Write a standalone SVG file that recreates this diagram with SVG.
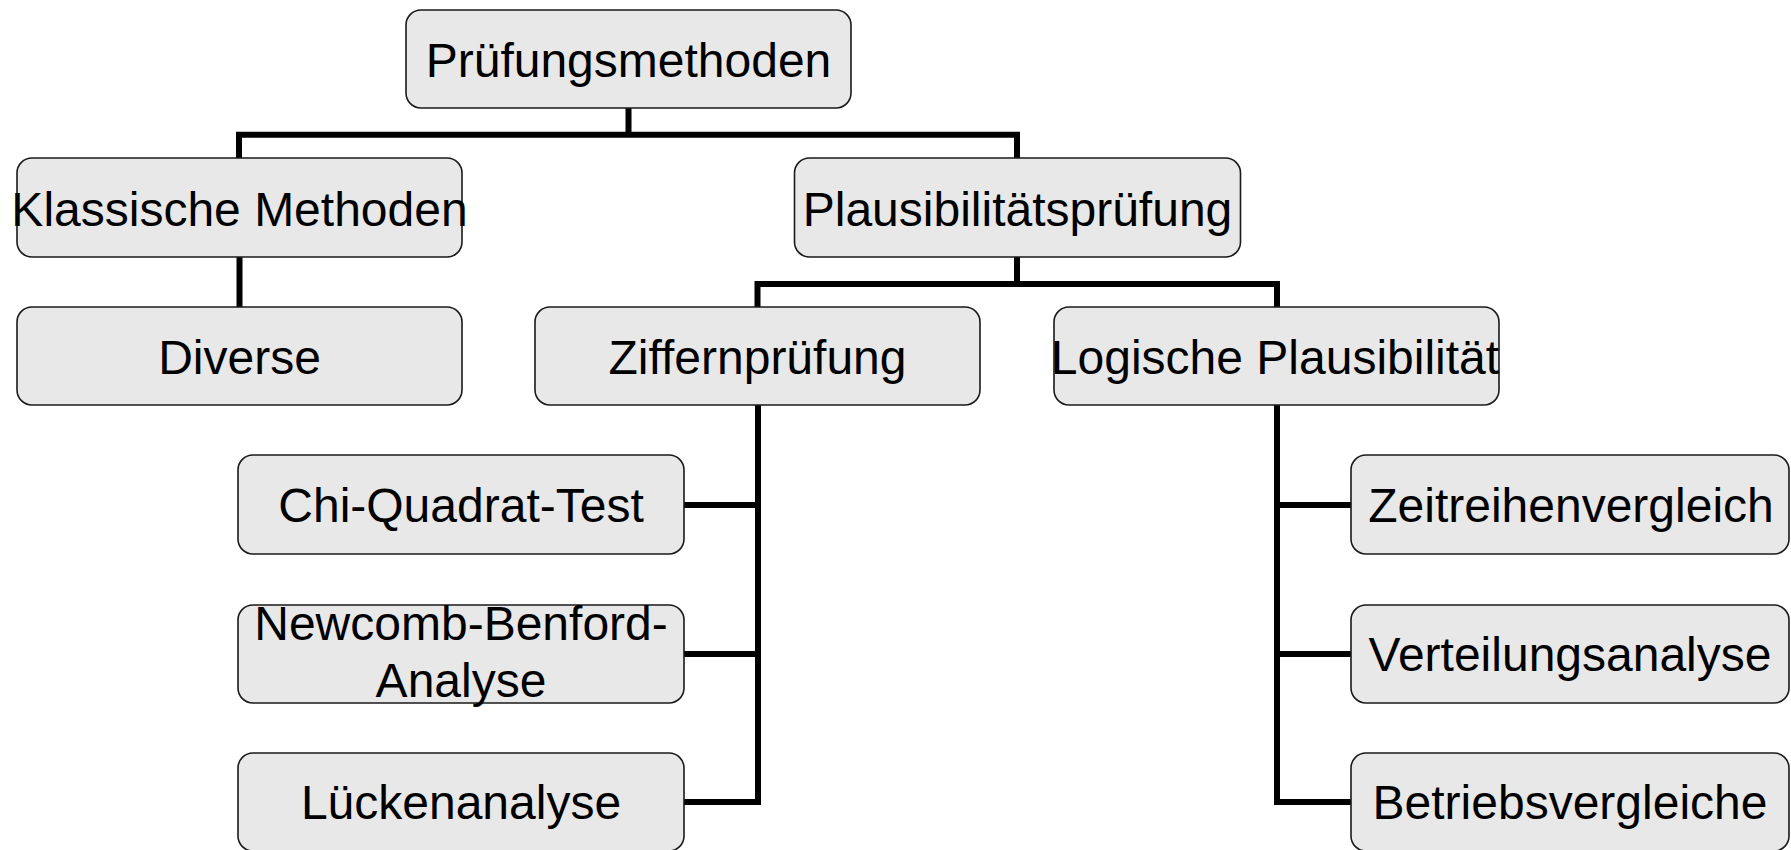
<svg xmlns="http://www.w3.org/2000/svg" width="1791" height="850" viewBox="0 0 1791 850">
  <style>
    .box { fill: #e8e8e8; stroke: #1a1a1a; stroke-width: 1.6; }
    .lbl { font-family: "Liberation Sans", Arial, sans-serif; font-size: 48px; fill: #000; text-anchor: middle; }
    .wire { fill: none; stroke: #000; stroke-width: 6; stroke-linejoin: miter; stroke-linecap: butt; }
  </style>
  <rect width="1791" height="850" fill="#ffffff"/>

  <!-- connectors -->
  <g id="connectors">
    <line class="wire" x1="628.5" y1="108" x2="628.5" y2="134.7"/>
    <polyline class="wire" points="239,158 239,134.7 1017,134.7 1017,158"/>
    <line class="wire" x1="239.5" y1="257" x2="239.5" y2="307"/>
    <line class="wire" x1="1017" y1="257" x2="1017" y2="284"/>
    <polyline class="wire" points="757.5,307 757.5,284 1277,284 1277,307"/>
    <!-- Ziffernprüfung branch -->
    <polyline class="wire" points="758,405 758,802 684,802"/>
    <line class="wire" x1="684" y1="505" x2="758" y2="505"/>
    <line class="wire" x1="684" y1="654" x2="758" y2="654"/>
    <!-- Logische Plausibilität branch -->
    <polyline class="wire" points="1277,405 1277,802 1351,802"/>
    <line class="wire" x1="1277" y1="505" x2="1351" y2="505"/>
    <line class="wire" x1="1277" y1="654" x2="1351" y2="654"/>
  </g>

  <g id="pruefungsmethoden">
    <rect class="box" x="406" y="10" width="445" height="98" rx="15"/>
    <text class="lbl" x="628.5" y="76.5">Prüfungsmethoden</text>
  </g>

  <g id="klassische-methoden">
    <rect class="box" x="17" y="158" width="445" height="99" rx="15"/>
    <text class="lbl" x="239.5" y="225.5">Klassische Methoden</text>
  </g>

  <g id="plausibilitaetspruefung">
    <rect class="box" x="794.5" y="158" width="446" height="99" rx="15"/>
    <text class="lbl" x="1017.5" y="225.5">Plausibilitätsprüfung</text>
  </g>

  <g id="diverse">
    <rect class="box" x="17" y="307" width="445" height="98" rx="15"/>
    <text class="lbl" x="239.5" y="373.5">Diverse</text>
  </g>

  <g id="ziffernpruefung">
    <rect class="box" x="535" y="307" width="445" height="98" rx="15"/>
    <text class="lbl" x="757.5" y="373.5">Ziffernprüfung</text>
  </g>

  <g id="logische-plausibilitaet">
    <rect class="box" x="1054" y="307" width="445" height="98" rx="15"/>
    <text class="lbl" x="1275" y="373.5">Logische Plausibilität</text>
  </g>

  <g id="chi-quadrat-test">
    <rect class="box" x="238" y="455" width="446" height="99" rx="15"/>
    <text class="lbl" x="461" y="522">Chi-Quadrat-Test</text>
  </g>

  <g id="newcomb-benford-analyse">
    <rect class="box" x="238" y="605" width="446" height="98" rx="15"/>
    <text class="lbl" x="461" y="640">Newcomb-Benford-</text>
    <text class="lbl" x="461" y="697">Analyse</text>
  </g>

  <g id="lueckenanalyse">
    <rect class="box" x="238" y="753" width="446" height="98" rx="15"/>
    <text class="lbl" x="461" y="819">Lückenanalyse</text>
  </g>

  <g id="zeitreihenvergleich">
    <rect class="box" x="1351" y="455" width="438" height="99" rx="15"/>
    <text class="lbl" x="1571" y="522">Zeitreihenvergleich</text>
  </g>

  <g id="verteilungsanalyse">
    <rect class="box" x="1351" y="605" width="438" height="98" rx="15"/>
    <text class="lbl" x="1570" y="671">Verteilungsanalyse</text>
  </g>

  <g id="betriebsvergleiche">
    <rect class="box" x="1351" y="753" width="438" height="98" rx="15"/>
    <text class="lbl" x="1570" y="819">Betriebsvergleiche</text>
  </g>
</svg>
